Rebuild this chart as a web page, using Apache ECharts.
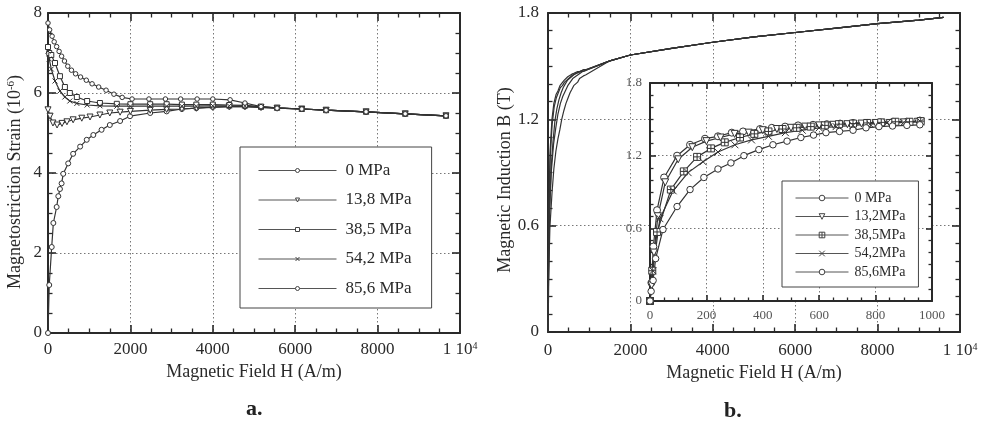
<!DOCTYPE html>
<html><head><meta charset="utf-8">
<script src="https://cdn.jsdelivr.net/npm/echarts@6/dist/echarts.min.js"></script>
<style>html,body{margin:0;padding:0;background:#fff}#c{width:987px;height:428px}</style>
</head><body><div id="c"></div>
<script>
// ---------- Panel a: magnetostriction strain (1e-6) vs H (A/m) ----------
const namesA = ['0 MPa', '13,8 MPa', '38,5 MPa', '54,2 MPa', '85,6 MPa'];
const hA0 = [0,30,90,130,210,250,290,330,370,490,610,780,940,1100,1300,1500,1750,1990,2480,2880,3250,3600,4000,4400,4780,5170,5560,6160,6750,7720,8670,9660];
const sA0 = [0,1.2,2.15,2.75,3.15,3.42,3.6,3.74,3.98,4.24,4.48,4.66,4.83,4.95,5.08,5.2,5.3,5.42,5.5,5.54,5.6,5.62,5.65,5.66,5.66,5.64,5.62,5.6,5.57,5.53,5.48,5.43];
const hA1 = [0,50,120,220,340,460,610,820,1020,1260,1500,1750,2000,2480,2880,3250,3600,4000,4400,4780,5170,5560,6160,6750,7720,8670,9660];
const sA1 = [5.58,5.42,5.25,5.2,5.24,5.28,5.33,5.37,5.4,5.45,5.5,5.52,5.54,5.57,5.59,5.6,5.62,5.64,5.66,5.66,5.64,5.62,5.6,5.57,5.53,5.48,5.43];
const hA2 = [0,30,80,170,290,410,530,700,950,1260,1670,2000,2480,2880,3250,3600,4000,4400,4780,5170,5560,6160,6750,7720,8670,9660];
const sA2 = [7.15,7.0,6.95,6.75,6.42,6.15,6.0,5.9,5.8,5.75,5.73,5.72,5.72,5.72,5.71,5.71,5.71,5.7,5.69,5.66,5.63,5.6,5.57,5.53,5.48,5.43];
const hA3 = [0,30,80,170,290,410,530,700,950,1260,1670,2000,2480,2880,3250,3600,4000,4400,4780,5170,5560,6160,6750,7720,8670,9660];
const sA3 = [7.05,6.85,6.6,6.3,6.05,5.9,5.8,5.74,5.7,5.68,5.67,5.67,5.67,5.67,5.67,5.67,5.68,5.68,5.68,5.65,5.63,5.6,5.57,5.53,5.48,5.43];
const hA4 = [0,40,100,150,210,270,330,400,480,570,670,790,930,1070,1230,1410,1600,1800,2040,2450,2850,3220,3620,4000,4420,4780,5170,5560,6160,6750,7720,8670,9660];
const sA4 = [7.75,7.58,7.42,7.28,7.16,7.04,6.92,6.8,6.67,6.57,6.48,6.4,6.32,6.23,6.15,6.07,5.97,5.89,5.85,5.85,5.85,5.85,5.85,5.85,5.83,5.75,5.66,5.62,5.6,5.57,5.53,5.48,5.43];

// ---------- Panel b: magnetic induction B (T) vs H (A/m) ----------
const namesB = ['0 MPa', '13,2MPa', '38,5MPa', '54,2MPa', '85,6MPa'];
const hB0 = [0,5,12,25,50,96,142,195,241,290,330,390,432,479,525,578,627,674,720,770,816,862,911,957];
const bB0 = [0,0.15,0.45,0.75,1.02,1.2,1.29,1.34,1.36,1.39,1.40,1.42,1.43,1.44,1.45,1.455,1.46,1.465,1.47,1.47,1.475,1.48,1.48,1.49];
const hB1 = [0,6,14,28,54,100,150,200,250,300,350,400,450,500,550,600,650,700,750,800,850,900,950];
const bB1 = [0,0.13,0.4,0.7,0.98,1.17,1.27,1.32,1.35,1.38,1.39,1.41,1.42,1.43,1.44,1.45,1.455,1.46,1.465,1.47,1.47,1.475,1.48];
const hB2 = [0,8,25,74,120,167,216,265,319,370,420,470,520,570,620,670,720,770,820,870,920,960];
const bB2 = [0,0.25,0.57,0.92,1.07,1.19,1.26,1.31,1.35,1.38,1.40,1.42,1.43,1.44,1.45,1.46,1.465,1.47,1.475,1.48,1.48,1.485];
const hB3 = [0,10,35,82,135,188,241,301,360,420,480,540,600,660,720,780,840,900,960];
const bB3 = [0,0.25,0.68,0.91,1.06,1.15,1.23,1.29,1.33,1.36,1.39,1.41,1.43,1.44,1.45,1.46,1.47,1.475,1.48];
const hB4 = [0,4,11,20,46,96,142,191,241,287,333,386,436,486,535,580,624,672,720,766,812,860,911,957];
const bB4 = [0,0.08,0.17,0.35,0.59,0.78,0.92,1.02,1.09,1.14,1.2,1.25,1.29,1.32,1.35,1.37,1.39,1.40,1.41,1.43,1.44,1.445,1.45,1.455];
// common high-field part of the main curves
const hTail = [1500,2000,3000,4000,5000,6000,7000,8000,9000,9600];
const bTail = [1.53,1.563,1.60,1.635,1.665,1.69,1.715,1.74,1.76,1.775];

// ---------- ticks ----------
const ticksA_x = [0,2000,4000,6000,8000,10000];
const ticksA_y = [0,2,4,6,8];
const ticksB_y = [0,0.6,1.2,1.8];
const ticksInset_x = [0,200,400,600,800,1000];

const FONT = '"Liberation Serif", "Times New Roman", serif';
const INK = '#2a2a2a';
const LINE = '#333';
const zip = (h, v) => h.map((x, i) => [x, v[i]]);

function xAx(grid, ticks, pos, opt) {
  opt = opt || {};
  const lab = pos === 'bottom';
  return {
    type: 'value', gridIndex: grid, position: pos,
    min: ticks[0], max: ticks[ticks.length - 1], interval: ticks[1] - ticks[0],
    z: opt.z || 0,
    axisLine: { onZero: false, lineStyle: { color: INK, width: 2 } },
    axisTick: { show: true, inside: true, length: opt.tl || 8, lineStyle: { color: INK, width: 1.6 } },
    minorTick: { show: true, splitNumber: opt.minor || 4, length: opt.ml || 4.5, lineStyle: { color: INK, width: 1.3 } },
    splitLine: { show: lab, lineStyle: { color: '#777', type: [1.5, 2.5], width: 1 } },
    minorSplitLine: { show: false },
    axisLabel: {
      show: lab, margin: opt.margin || 8, fontFamily: FONT, fontSize: opt.fs || 17, color: opt.lc || INK,
      formatter: v => v === 10000 ? '{n|1 10}{s|4}' : '{n|' + v + '}',
      rich: { n: { fontFamily: FONT, fontSize: opt.fs || 17, color: opt.lc || INK, lineHeight: 18 },
              s: { fontFamily: FONT, fontSize: 10, color: opt.lc || INK, verticalAlign: 'top', lineHeight: 10 } }
    },
    name: lab ? (opt.name || '') : '', nameLocation: 'middle', nameGap: opt.ng || 24,
    nameTextStyle: { fontFamily: FONT, fontSize: 18, color: INK }
  };
}
function yAx(grid, ticks, pos, opt) {
  opt = opt || {};
  const lab = pos === 'left';
  return {
    type: 'value', gridIndex: grid, position: pos,
    min: ticks[0], max: ticks[ticks.length - 1], interval: ticks[1] - ticks[0],
    z: opt.z || 0,
    axisLine: { onZero: false, lineStyle: { color: INK, width: 2 } },
    axisTick: { show: true, inside: true, length: opt.tl || 8, lineStyle: { color: INK, width: 1.6 } },
    minorTick: { show: true, splitNumber: opt.minor || 4, length: opt.ml || 4.5, lineStyle: { color: INK, width: 1.3 } },
    splitLine: { show: lab, lineStyle: { color: '#777', type: [1.5, 2.5], width: 1 } },
    minorSplitLine: { show: false },
    axisLabel: {
      show: lab, margin: opt.margin || 6, fontFamily: FONT, fontSize: opt.fs || 17, color: opt.lc || INK,
      formatter: opt.fmt || (v => String(v))
    },
    name: lab ? (opt.name || '') : '', nameLocation: 'middle', nameGap: opt.ng || 23,
    nameTextStyle: { fontFamily: FONT, fontSize: 18, color: INK, padding: opt.npad || 0,
      rich: { s: { fontFamily: FONT, fontSize: 11, color: INK, verticalAlign: 'top', lineHeight: 11 } } }
  };
}

const SYM_X = 'path://M0 0L10 10M10 0L0 10';
const SYM_SQX = 'path://M0 0H10V10H0Z M5 0V10 M0 5H10';
const symA = [['circle', 5, 0], ['triangle', 6, 180], ['rect', 5, 0], [SYM_X, 5, 0], ['circle', 4.5, 0]];
const symB = [['circle', 7, 0], ['triangle', 7, 180], [SYM_SQX, 7, 0], [SYM_X, 7, 0], ['circle', 6.5, 0]];

function lineSeries(name, data, xi, yi, sym, z) {
  return {
    type: 'line', name: name, data: data, xAxisIndex: xi, yAxisIndex: yi,
    symbol: sym ? sym[0] : 'none', symbolSize: sym ? sym[1] : 0, symbolRotate: sym ? sym[2] : 0,
    showSymbol: !!sym, showAllSymbol: true, silent: true, z: z || 2, animation: false,
    lineStyle: { color: LINE, width: 1.2 },
    itemStyle: { color: '#fff', borderColor: LINE, borderWidth: 1 }
  };
}

const dataA = [zip(hA0, sA0), zip(hA1, sA1), zip(hA2, sA2), zip(hA3, sA3), zip(hA4, sA4)];
const dataB = [zip(hB0, bB0), zip(hB1, bB1), zip(hB2, bB2), zip(hB3, bB3), zip(hB4, bB4)];
const tail = zip(hTail, bTail);

const series = [];
namesA.forEach((n, i) => series.push(lineSeries(n, dataA[i], 0, 0, symA[i])));
namesB.forEach((n, i) => series.push(lineSeries('m:' + n, dataB[i].concat(tail), 2, 2, null)));
namesB.forEach((n, i) => series.push(lineSeries('b:' + n, dataB[i], 4, 4, symB[i], 5)));

const fmtB = v => v === 0 ? '0' : v.toFixed(1);

const legendLine = { color: '#555', width: 1 };
const legendItem = { color: '#fff', borderColor: '#444', borderWidth: 1 };

const option = {
  backgroundColor: '#fff',
  animation: false,
  grid: [
    { left: 48, top: 13, width: 412, height: 320 },
    { left: 548, top: 13, width: 412, height: 319 },
    { left: 650, top: 83, width: 282, height: 218, show: true, backgroundColor: '#fff', borderWidth: 0, z: 3 }
  ],
  xAxis: [
    xAx(0, ticksA_x, 'bottom', { name: 'Magnetic Field H (A/m)', ng: 24, margin: 8 }),
    xAx(0, ticksA_x, 'top'),
    xAx(1, ticksA_x, 'bottom', { name: 'Magnetic Field H (A/m)', ng: 30, margin: 10 }),
    xAx(1, ticksA_x, 'top'),
    xAx(2, ticksInset_x, 'bottom', { z: 4, fs: 13, lc: '#555', margin: 6, tl: 6, ml: 3.5 }),
    xAx(2, ticksInset_x, 'top', { z: 4, tl: 6, ml: 3.5 })
  ],
  yAxis: [
    yAx(0, ticksA_y, 'left', { name: 'Magnetostriction Strain (10{s|-6})', ng: 24, npad: [0, 18, 0, 0] }),
    yAx(0, ticksA_y, 'right'),
    yAx(1, ticksB_y, 'left', { name: 'Magnetic Induction B (T)', ng: 33, npad: [0, 15, 0, 0], minor: 6, fmt: fmtB, margin: 9 }),
    yAx(1, ticksB_y, 'right', { minor: 6 }),
    yAx(2, ticksB_y, 'left', { z: 4, minor: 6, fmt: fmtB, fs: 13, lc: '#555', margin: 8, tl: 6, ml: 3.5 }),
    yAx(2, ticksB_y, 'right', { z: 4, minor: 6, tl: 6, ml: 3.5 })
  ],
  legend: [
    {
      orient: 'vertical', left: 240, top: 147, padding: [15, 20, 11, 18],
      itemWidth: 78, itemHeight: 5, itemGap: 12.5, selectedMode: false,
      backgroundColor: '#fff', borderColor: '#444', borderWidth: 1, z: 6,
      lineStyle: legendLine, itemStyle: legendItem,
      textStyle: { fontFamily: FONT, fontSize: 17, color: INK, lineHeight: 17, padding: [0, 0, 0, 4] },
      data: namesA
    },
    {
      orient: 'vertical', left: 782, top: 181, padding: [10, 13, 8, 13],
      itemWidth: 53, itemHeight: 7, itemGap: 4.5, selectedMode: false,
      backgroundColor: '#fff', borderColor: '#444', borderWidth: 1, z: 6,
      lineStyle: legendLine, itemStyle: legendItem,
      textStyle: { fontFamily: FONT, fontSize: 14, color: INK, lineHeight: 14, padding: [0, 0, 0, 1] },
      formatter: n => n.replace(/^b:/, ''),
      data: namesB.map(n => 'b:' + n)
    }
  ],
  graphic: [
    { type: 'text', left: 246, top: 398, style: { text: 'a.', font: 'bold 22px "Liberation Serif"', fill: '#222' } },
    { type: 'text', left: 724, top: 400, style: { text: 'b.', font: 'bold 22px "Liberation Serif"', fill: '#222' } }
  ],
  series: series
};

const chart = echarts.init(document.getElementById('c'), null, { renderer: 'canvas' });
chart.setOption(option);
</script></body></html>
